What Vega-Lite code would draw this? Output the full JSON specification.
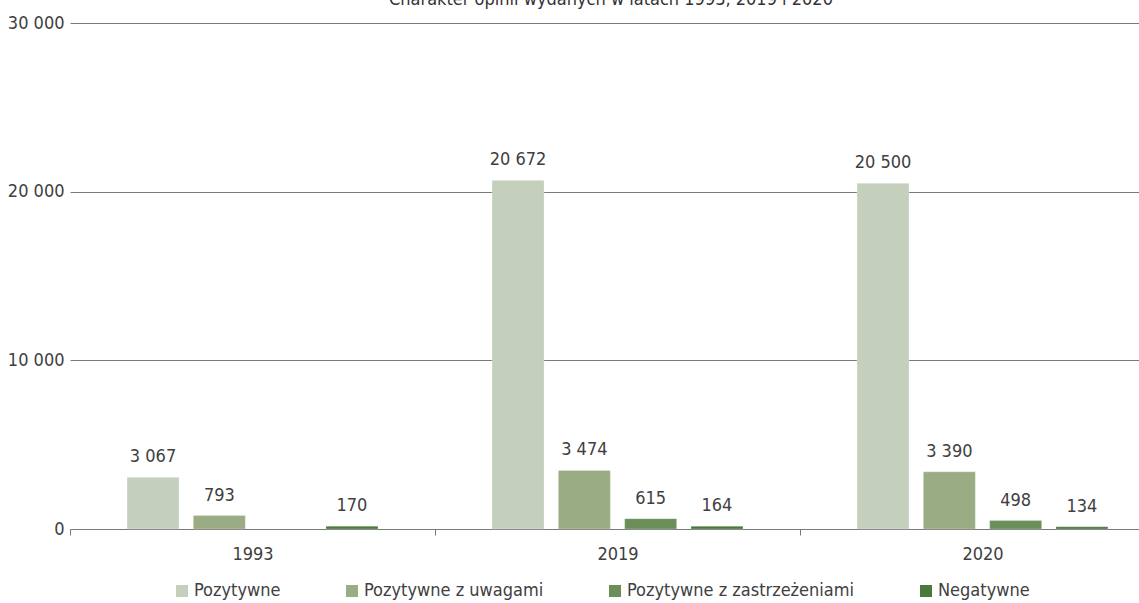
{
  "$schema": "https://vega.github.io/schema/vega-lite/v6.json",
  "autosize": {"type": "none"},
  "width": 1056,
  "height": 506,
  "padding": {"left": 83, "top": 23, "right": 0, "bottom": 74},
  "title": {
    "text": "Charakter opinii wydanych w latach 1993, 2019 i 2020",
    "font": "DejaVu Sans Condensed, Roboto, sans-serif",
    "fontSize": 18,
    "fontWeight": "normal",
    "color": "#333333",
    "baseline": "alphabetic",
    "offset": 3,
    "dy": 12
  },
  "config": {
    "view": {"stroke": null},
    "locale": {"number": {"decimal": ",", "thousands": " ", "grouping": [3], "currency": ["", " zł"]}},
    "font": "DejaVu Sans Condensed, Roboto, sans-serif"
  },
  "data": {
    "values": [
      {"rok": "1993", "rodzaj": "Pozytywne", "liczba": 3067},
      {"rok": "1993", "rodzaj": "Pozytywne z uwagami", "liczba": 793},
      {"rok": "1993", "rodzaj": "Negatywne", "liczba": 170},
      {"rok": "2019", "rodzaj": "Pozytywne", "liczba": 20672},
      {"rok": "2019", "rodzaj": "Pozytywne z uwagami", "liczba": 3474},
      {"rok": "2019", "rodzaj": "Pozytywne z zastrzeżeniami", "liczba": 615},
      {"rok": "2019", "rodzaj": "Negatywne", "liczba": 164},
      {"rok": "2020", "rodzaj": "Pozytywne", "liczba": 20500},
      {"rok": "2020", "rodzaj": "Pozytywne z uwagami", "liczba": 3390},
      {"rok": "2020", "rodzaj": "Pozytywne z zastrzeżeniami", "liczba": 498},
      {"rok": "2020", "rodzaj": "Negatywne", "liczba": 134}
    ]
  },
  "encoding": {
    "x": {
      "field": "rok",
      "type": "nominal",
      "title": null,
      "scale": {"range": [-13, 1082], "paddingInner": 0, "paddingOuter": 0},
      "axis": {
        "domain": false,
        "tickBand": "extent",
        "tickSize": 6,
        "tickColor": "#7a7a7a",
        "labelAngle": 0,
        "labelFontSize": 18,
        "labelColor": "#404040",
        "labelPadding": 10,
        "labelFont": "DejaVu Sans Condensed, Roboto, sans-serif"
      }
    },
    "xOffset": {
      "field": "rodzaj",
      "type": "nominal",
      "sort": ["Pozytywne", "Pozytywne z uwagami", "Pozytywne z zastrzeżeniami", "Negatywne"],
      "scale": {
        "domain": ["Pozytywne", "Pozytywne z uwagami", "Pozytywne z zastrzeżeniami", "Negatywne"],
        "paddingInner": 0.216,
        "paddingOuter": 0.86
      }
    },
    "y": {
      "field": "liczba",
      "type": "quantitative",
      "title": null,
      "scale": {"domain": [0, 30000], "nice": false},
      "axis": {
        "values": [0, 10000, 20000, 30000],
        "format": ",.0f",
        "domain": false,
        "ticks": false,
        "grid": true,
        "gridColor": "#7a7a7a",
        "gridWidth": 1,
        "gridOpacity": 1,
        "labelFontSize": 18,
        "labelColor": "#404040",
        "labelPadding": 19,
        "labelFont": "DejaVu Sans Condensed, Roboto, sans-serif"
      }
    }
  },
  "layer": [
    {
      "mark": {"type": "bar", "stroke": "#ffffff", "strokeOpacity": 0.25, "strokeWidth": 1},
      "encoding": {
        "color": {
          "field": "rodzaj",
          "type": "nominal",
          "sort": ["Pozytywne", "Pozytywne z uwagami", "Pozytywne z zastrzeżeniami", "Negatywne"],
          "scale": {
            "domain": ["Pozytywne", "Pozytywne z uwagami", "Pozytywne z zastrzeżeniami", "Negatywne"],
            "range": ["#c5d0bc", "#9aac84", "#6c8e59", "#4a7a3b"]
          },
          "legend": {
            "title": null,
            "orient": "none",
            "direction": "horizontal",
            "legendX": 90,
            "legendY": 559,
            "symbolType": "square",
            "symbolSize": 144,
            "symbolStrokeWidth": 0,
            "labelFontSize": 18,
            "labelColor": "#404040",
            "labelFont": "DejaVu Sans Condensed, Roboto, sans-serif",
            "labelOffset": 3,
            "labelLimit": 400,
            "columnPadding": 62
          }
        }
      }
    },
    {
      "mark": {"type": "text", "baseline": "alphabetic", "dy": -15, "fontSize": 18, "color": "#404040", "font": "DejaVu Sans Condensed, Roboto, sans-serif"},
      "encoding": {
        "text": {"field": "liczba", "type": "quantitative", "format": ",.0f"}
      }
    }
  ]
}
